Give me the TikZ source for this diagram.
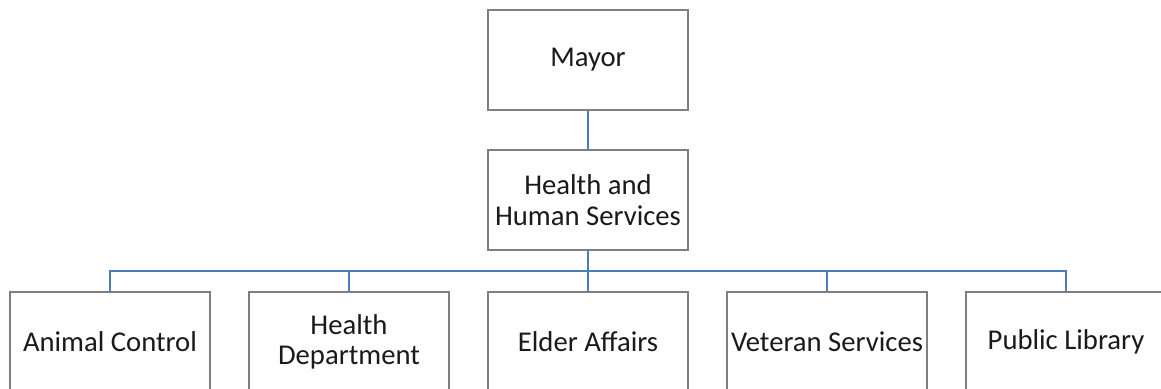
\documentclass[tikz,border=0pt]{standalone}
\usepackage{fontspec}
\setmainfont{Carlito}
\usepackage{tikz}
\definecolor{BoxGray}{HTML}{7F7F7F}
\definecolor{LinkBlue}{HTML}{4A7EBB}
\definecolor{Ink}{HTML}{1A1A1A}
\tikzset{
  unit/.style={draw=BoxGray,line width=1.1pt,fill=white,text=Ink,align=center,
    minimum width=150pt,minimum height=75pt,inner sep=1pt,
    font=\fontsize{21.5}{23}\selectfont},
  link/.style={draw=LinkBlue,line width=0.9pt}
}
\begin{document}
\begin{tikzpicture}[x=0.75pt,y=-0.75pt]
    \useasboundingbox (0,0) rectangle (1161,389);
    \node[unit] (mayor) at (588,60) {Mayor};
    \node[unit] (hhs) at (588,200) {Health and\\Human Services};
    \coordinate (bus) at (588,271);
    \node[unit] (animal) at (110,342) {Animal Control};
    \node[unit] (health) at (349,342) {Health\\Department};
    \node[unit] (elder) at (588,342) {Elder Affairs};
    \node[unit] (veteran) at (827,342) {Veteran Services};
    \node[unit] (library) at (1066,342) {Public Library};
    \draw[link] (mayor.south)--(hhs.north);
    \foreach \dept in {animal,health,elder,veteran,library}
      \draw[link] (hhs.south)--(bus)-|(\dept.north);
  \end{tikzpicture}
\end{document}
